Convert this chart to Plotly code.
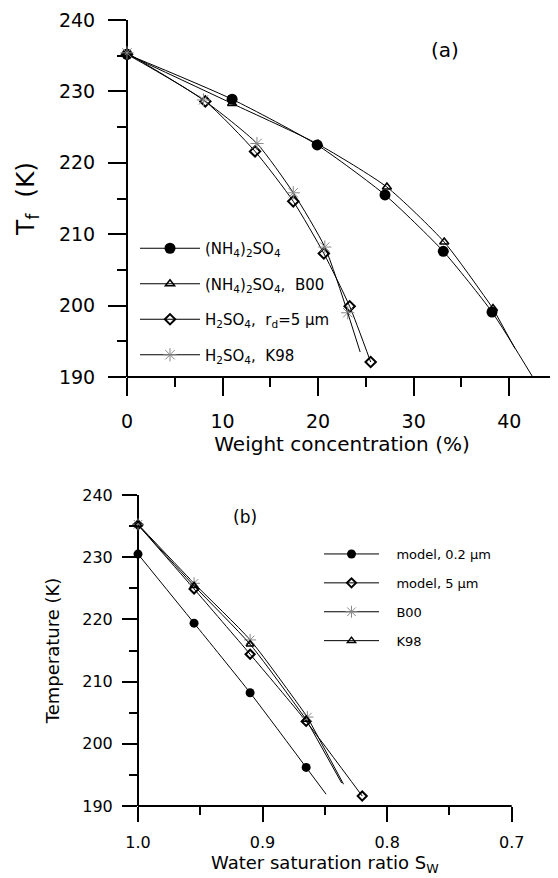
import plotly.graph_objects as go

# ---------------- Panel (a) data ----------------
a_amm_x = [0, 11.0, 19.9, 27.0, 33.1, 38.2, 42.5]
a_amm_y = [235.2, 228.9, 222.5, 215.5, 207.6, 199.1, 189.9]

a_b00_x = [0, 11.0, 20.0, 27.2, 33.2, 38.3]
a_b00_y = [235.2, 228.3, 222.6, 216.6, 208.9, 199.6]
a_b00_tail_x = [38.3, 40.6]
a_b00_tail_y = [199.6, 194.0]

a_h2_x = [0, 8.2, 13.4, 17.4, 20.6, 23.3, 25.5]
a_h2_y = [235.2, 228.6, 221.6, 214.6, 207.3, 199.9, 192.1]

a_k98_x = [0, 8.0, 13.6, 17.4, 20.7, 23.1]
a_k98_y = [235.4, 228.8, 222.7, 215.8, 208.2, 199.0]
a_k98_tail_x = [23.1, 24.4]
a_k98_tail_y = [199.0, 193.5]

# ---------------- Panel (b) data ----------------
b_m02_x = [1.0, 0.955, 0.910, 0.865]
b_m02_y = [230.5, 219.4, 208.2, 196.2]
b_m02_tail_x = [0.865, 0.849]
b_m02_tail_y = [196.2, 191.9]

b_m5_x = [1.0, 0.955, 0.910, 0.865, 0.820]
b_m5_y = [235.2, 224.9, 214.4, 203.6, 191.6]

b_b00_x = [1.0, 0.955, 0.910, 0.864]
b_b00_y = [235.3, 225.8, 216.7, 204.3]
b_b00_tail_x = [0.864, 0.835]
b_b00_tail_y = [204.3, 193.5]

b_k98_x = [1.0, 0.955, 0.910, 0.865]
b_k98_y = [235.2, 225.4, 216.0, 203.9]
b_k98_tail_x = [0.865, 0.8365]
b_k98_tail_y = [203.9, 193.7]

FONT = "DejaVu Sans"
LINE = dict(color="black", width=1, shape="spline", smoothing=0.6)
PAD_B = "\u00a0\u00a0\u00a0"  # extra gap between symbol and text in legend (b)

fig = go.Figure()


def series(x, y, name, marker, xa, ya, legend, group):
    fig.add_trace(go.Scatter(
        x=x, y=y, name=name, mode="lines+markers", line=LINE, marker=marker,
        xaxis=xa, yaxis=ya, legend=legend, legendgroup=group, cliponaxis=False))


def tail(x, y, xa, ya):
    fig.add_trace(go.Scatter(
        x=x, y=y, mode="lines", line=dict(color="black", width=1),
        xaxis=xa, yaxis=ya, showlegend=False, hoverinfo="skip", cliponaxis=False))


circle_a = dict(symbol="circle", size=11, color="black")
tri_a = dict(symbol="triangle-up-open", size=8, color="black", line=dict(width=1.5, color="black"))
dia_a = dict(symbol="diamond-open", size=8, color="black", line=dict(width=2, color="black"))
ast_a = dict(symbol="asterisk-open", size=11, color="#888888", line=dict(width=1, color="#888888"))

series(a_amm_x, a_amm_y, "(NH<sub>4</sub>)<sub>2</sub>SO<sub>4</sub>", circle_a, "x", "y", "legend", "a1")
series(a_b00_x, a_b00_y, "(NH<sub>4</sub>)<sub>2</sub>SO<sub>4</sub>,\u00a0 B00", tri_a, "x", "y", "legend", "a2")
tail(a_b00_tail_x, a_b00_tail_y, "x", "y")
series(a_h2_x, a_h2_y, "H<sub>2</sub>SO<sub>4</sub>,\u00a0 r<sub>d</sub>=5 \u03bcm", dia_a, "x", "y", "legend", "a3")
series(a_k98_x, a_k98_y, "H<sub>2</sub>SO<sub>4</sub>,\u00a0 K98", ast_a, "x", "y", "legend", "a4")
tail(a_k98_tail_x, a_k98_tail_y, "x", "y")

circle_b = dict(symbol="circle", size=9, color="black")
tri_b = dict(symbol="triangle-up-open", size=7, color="black", line=dict(width=1.5, color="black"))
dia_b = dict(symbol="diamond-open", size=7, color="black", line=dict(width=2, color="black"))
ast_b = dict(symbol="asterisk-open", size=10, color="#888888", line=dict(width=1, color="#888888"))

series(b_m02_x, b_m02_y, PAD_B + "model, 0.2 \u03bcm", circle_b, "x2", "y2", "legend2", "b1")
tail(b_m02_tail_x, b_m02_tail_y, "x2", "y2")
series(b_m5_x, b_m5_y, PAD_B + "model, 5 \u03bcm", dia_b, "x2", "y2", "legend2", "b2")
series(b_b00_x, b_b00_y, PAD_B + "B00", ast_b, "x2", "y2", "legend2", "b3")
tail(b_b00_tail_x, b_b00_tail_y, "x2", "y2")
series(b_k98_x, b_k98_y, PAD_B + "K98", tri_b, "x2", "y2", "legend2", "b4")
tail(b_k98_tail_x, b_k98_tail_y, "x2", "y2")

# the page has an 8 px body margin, so the figure is 550 x 870
W, H = 550, 870
OFF = 8


def px(p):
    return (p - OFF) / W


def py(p):
    return 1 - (p - OFF) / H


def ax(ticklen, minor_dtick, minor_len, **kw):
    d = dict(showline=False, showgrid=False, zeroline=False,
             ticks="outside", ticklen=ticklen, tickwidth=2, tickcolor="black",
             minor=dict(dtick=minor_dtick, ticklen=minor_len, tickwidth=2,
                        tickcolor="black", ticks="outside", showgrid=False))
    d.update(kw)
    return d


# axis lines (left and bottom spines) of both panels
spines = []
for xr, yr in (("x", "y"), ("x2", "y2")):
    spines.append(dict(type="line", xref=xr + " domain", yref=yr + " domain",
                       x0=0, x1=1, y0=0, y1=0, line=dict(color="black", width=2), layer="below"))
    spines.append(dict(type="line", xref=xr + " domain", yref=yr + " domain",
                       x0=0, x1=0, y0=0, y1=1, line=dict(color="black", width=2), layer="below"))

fig.update_layout(
    template="none",
    width=W, height=H, margin=dict(l=0, r=0, t=0, b=0),
    paper_bgcolor="white", plot_bgcolor="rgba(0,0,0,0)",
    font=dict(family=FONT, color="black"),
    xaxis=ax(18, 5, 9, domain=[px(127), px(557)], anchor="y", range=[0, 45],
             dtick=10, tick0=0, tickfont=dict(size=19), ticklabelstandoff=9,
             title=dict(text="Weight concentration (%)", font=dict(size=20), standoff=2)),
    yaxis=ax(18, 5, 9, domain=[py(377), py(20)], anchor="x", range=[190, 240],
             dtick=10, tick0=190, tickfont=dict(size=19), ticklabelstandoff=9,
             title=dict(text="T<sub>f</sub>  (K)", font=dict(size=25), standoff=17)),
    xaxis2=ax(15, 0.05, 8, domain=[px(138), px(511.7)], anchor="y2", range=[1.0, 0.7],
              dtick=0.1, tick0=0.7, tickformat=".1f", tickfont=dict(size=16), ticklabelstandoff=7,
              title=dict(text="Water saturation ratio S<sub>W</sub>", font=dict(size=18), standoff=2)),
    yaxis2=ax(15, 5, 8, domain=[py(806), py(495)], anchor="x2", range=[190, 240],
              dtick=10, tick0=190, tickfont=dict(size=16), ticklabelstandoff=6,
              title=dict(text="Temperature (K)", font=dict(size=18), standoff=17)),
    shapes=spines,
    legend=dict(x=px(135), y=py(232), xanchor="left", yanchor="top",
                bgcolor="rgba(0,0,0,0)", font=dict(size=15), traceorder="grouped",
                tracegroupgap=13, itemwidth=60),
    legend2=dict(x=px(319), y=py(539), xanchor="left", yanchor="top",
                 bgcolor="rgba(0,0,0,0)", font=dict(size=13), traceorder="grouped",
                 tracegroupgap=9, itemwidth=55),
    annotations=[
        dict(text="(a)", x=px(445), y=py(50), xref="paper", yref="paper",
             xanchor="center", yanchor="middle", showarrow=False, font=dict(size=20)),
        dict(text="(b)", x=px(245), y=py(517), xref="paper", yref="paper",
             xanchor="center", yanchor="middle", showarrow=False, font=dict(size=17)),
    ],
)

fig.write_html("out.html")
